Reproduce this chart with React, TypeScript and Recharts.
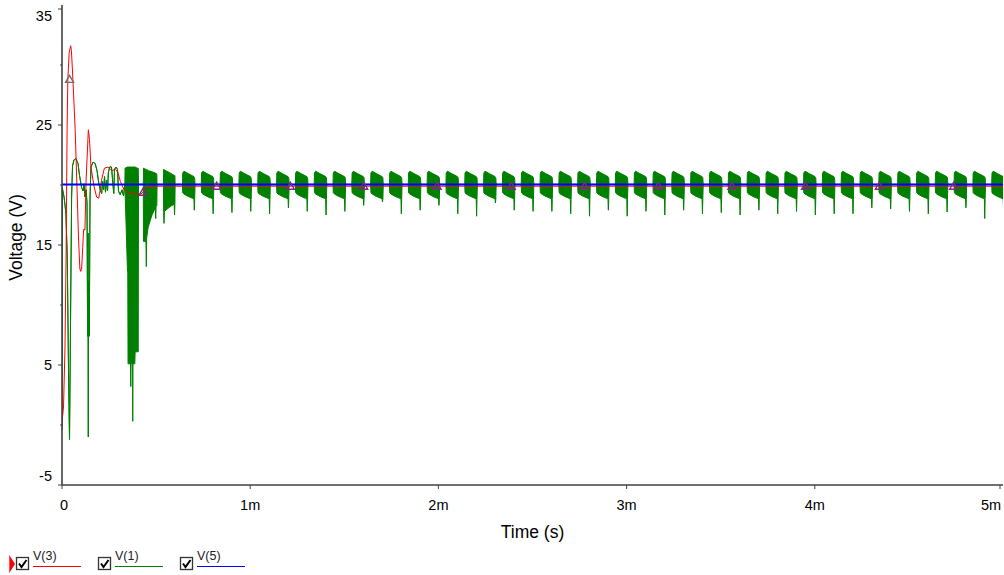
import React from 'react';
import { ComposedChart, Line, Area, Scatter, XAxis, YAxis, Label } from 'recharts';

// time in ms, voltage in V

// V(3) red node
const v3Time = [0, 0.008, 0.016, 0.022, 0.027, 0.031, 0.038, 0.046, 0.05, 0.058, 0.07, 0.08, 0.088, 0.095, 0.1, 0.105, 0.11, 0.115, 0.122, 0.128, 0.14, 0.146, 0.154, 0.17, 0.184, 0.195, 0.202, 0.21, 0.225, 0.245, 0.265, 0.285, 0.298, 0.31, 0.33, 0.35, 0.38, 0.405, 0.425, 0.445, 0.47, 0.5, 5];
const v3Volts = [0.2, 1.5, 6.5, 14.5, 24.6, 28.8, 31.0, 31.6, 31.2, 28.8, 24.6, 19.6, 15.5, 13.0, 12.8, 13.2, 14.8, 16.3, 16.25, 20.4, 24.6, 23.8, 21.5, 19.9, 19.0, 18.9, 19.5, 20.4, 21.4, 21.5, 21.2, 21.3, 21.0, 20.3, 19.6, 19.4, 19.3, 19.2, 19.3, 19.7, 19.9, 19.9, 19.9];

// V(5) blue node
const v5Time = [0, 5];
const v5Volts = [20.05, 20.05];

// V(1) green node, start-up part (low / high envelope)
const v1Time = [
  0, 0.001, 0.011, 0.021, 0.028, 0.035, 0.04, 0.045, 0.051, 0.056, 0.064, 0.074, 0.085, 0.093, 0.104, 0.112, 0.117, 0.122, 0.128, 0.133,
  0.136, 0.138, 0.14, 0.141, 0.145, 0.149, 0.154, 0.165, 0.176, 0.186, 0.197, 0.205, 0.211, 0.215, 0.221, 0.226, 0.231, 0.237, 0.242, 0.246,
  0.253, 0.263, 0.271, 0.275, 0.279, 0.287, 0.295, 0.3, 0.309, 0.319, 0.327, 0.334,
  0.3351, 0.348, 0.3495, 0.351, 0.364, 0.3655, 0.367, 0.375, 0.376, 0.377, 0.387, 0.3885, 0.4, 0.405, 0.4065,
  0.432, 0.433, 0.446, 0.448, 0.45, 0.458, 0.478, 0.496, 0.498, 0.5, 0.504, 0.505,
  0.539, 0.54, 0.542, 0.544, 0.575, 0.596, 0.598, 0.6, 0.601,
];
const v1Low = [
  -0.4, 19.8, 19.0, 17.6, 14.0, 4.0, -1.2, 8.0, 19.0, 21.6, 22.1, 22.2, 21.8, 20.8, 19.8, 19.5, 20.1, 19.0, 19.6, 18.5,
  7.4, 16.0, -1.0, 12.0, 7.4, 19.0, 21.5, 21.9, 21.8, 21.2, 20.0, 19.5, 19.3, 20.3, 19.6, 20.7, 19.4, 20.4, 19.5, 21.0,
  21.5, 21.5, 20.0, 19.3, 21.3, 21.5, 21.3, 19.5, 19.2, 19.6, 19.1, 20.0,
  19.5, 12.8, 12.8, 5.1, 5.1, 3.2, 5.1, 5.1, 0.3, 5.1, 5.1, 6.1, 6.1, 6.1, 20.05,
  20.05, 15.3, 15.3, 13.2, 15.6, 16.5, 17.5, 18.1, 17.2, 18.2, 18.3, 20.05,
  20.05, 17.8, 16.8, 17.8, 18.2, 18.4, 17.5, 18.4, 20.05,
];
const v1High = [
  -0.4, 19.8, 19.0, 17.6, 14.0, 4.0, -1.2, 8.0, 19.0, 21.6, 22.1, 22.2, 21.8, 20.8, 19.8, 19.5, 20.1, 19.0, 19.6, 18.5,
  7.4, 16.0, -1.0, 12.0, 7.4, 19.0, 21.5, 21.9, 21.8, 21.2, 20.0, 19.5, 19.3, 20.3, 19.6, 20.7, 19.4, 20.4, 19.5, 21.0,
  21.5, 21.5, 20.0, 19.3, 21.3, 21.5, 21.3, 19.5, 19.2, 19.6, 19.1, 20.0,
  21.4, 21.5, 21.5, 21.5, 21.5, 21.5, 21.5, 21.5, 21.5, 21.5, 21.5, 21.5, 21.4, 21.4, 20.05,
  20.05, 21.4, 21.3, 21.3, 21.3, 21.2, 21.1, 21.0, 21.0, 20.95, 20.9, 20.05,
  20.05, 21.3, 21.3, 21.25, 21.0, 20.8, 20.8, 20.8, 20.05,
];

// V(1) steady switching bursts: start of each burst and depth of its closing spike
const burstStart = [
  0.64, 0.74, 0.84, 0.94, 1.04, 1.14, 1.24, 1.34, 1.44, 1.54, 1.64, 1.74, 1.84, 1.94, 2.04, 2.14, 2.24, 2.34, 2.44, 2.54, 2.64, 2.74,
  2.84, 2.94, 3.04, 3.14, 3.24, 3.34, 3.44, 3.54, 3.64, 3.74, 3.84, 3.94, 4.04, 4.14, 4.24, 4.34, 4.44, 4.54, 4.64, 4.74, 4.84, 4.94,
];
const burstSpike = [
  17.9, 17.6, 17.7, 17.8, 17.6, 18.1, 17.8, 17.5, 17.8, 18.3, 18.6, 17.6, 17.9, 18.3, 17.6, 17.4, 18.5, 17.9, 17.8, 17.8, 17.6, 17.4,
  17.9, 17.4, 17.8, 17.5, 17.9, 17.6, 17.7, 17.5, 17.9, 17.6, 17.8, 17.5, 17.6, 17.6, 18.1, 18.0, 17.8, 17.6, 17.75, 18.1, 17.2, 17.8,
];
// shape of one burst (offset from its start)
const burstOffset = [0, 0.0015, 0.008, 0.03, 0.061, 0.063, 0.065, 0.067];
const burstHigh = [20.05, 21.0, 21.15, 20.95, 20.7, 20.65, 20.6, 20.05];
const burstLow = [20.05, 19.35, 19.25, 19.05, 18.85, 0, 18.8, 20.05];
const SPIKE_AT = 5;

// triangle markers
const markerTime = [0.04, 0.431, 0.822, 1.213, 1.603, 1.993, 2.387, 2.777, 3.168, 3.56, 3.951, 4.343, 4.738];
const markerVolts = [28.8, 19.4, 19.9, 19.9, 19.9, 19.9, 19.9, 19.9, 19.9, 19.9, 19.9, 19.9, 19.9];

const xTicks = [0, 1, 2, 3, 4, 5];
const xTickLabels = ['0', '1m', '2m', '3m', '4m', '5m'];
const yTicks = [-5, 0, 5, 10, 15, 20, 25, 30, 35];
const yMajor = [-5, 5, 15, 25, 35];

const legendNames = ['V(3)', 'V(1)', 'V(5)'];
const legendColors = ['#ff0000', '#008000', '#0000ff'];

const FONT = '"Liberation Sans", Arial, sans-serif';
const AXIS = '#404040';
const PLOT_LEFT = 62;
const PLOT_BOTTOM = 485;

const v3Data = v3Time.map((t, i) => ({ t, v: v3Volts[i] }));
const v5Data = v5Time.map((t, i) => ({ t, v: v5Volts[i] }));
const v1Data = v1Time.map((t, i) => ({ t, v: [v1Low[i], v1High[i]] }));
burstStart.forEach((s, k) => {
  burstOffset.forEach((o, i) => {
    const low = i === SPIKE_AT ? burstSpike[k] : burstLow[i];
    v1Data.push({ t: +(s + o).toFixed(4), v: [low, burstHigh[i]] });
  });
});
const markerData = markerTime.map((t, i) => ({ t, v: markerVolts[i] }));

const YTick = (props: any) => {
  const { y, payload } = props;
  const major = yMajor.includes(payload.value);
  const ly = Math.min(Math.max(y, 15.5), 475.5);
  return (
    <g>
      <line x1={PLOT_LEFT - (major ? 4 : 2)} x2={PLOT_LEFT} y1={y} y2={y} stroke={AXIS} strokeWidth={1} />
      {major && (
        <text x={52} y={ly} textAnchor="end" dominantBaseline="central" fontSize={14.5} fontFamily={FONT} fill="#000">
          {payload.value}
        </text>
      )}
    </g>
  );
};

const XTick = (props: any) => {
  const { x, payload } = props;
  const lx = Math.min(Math.max(x, 64), 991);
  return (
    <g>
      <line x1={x} x2={x} y1={PLOT_BOTTOM} y2={PLOT_BOTTOM + 4} stroke={AXIS} strokeWidth={1} />
      <text x={lx} y={505} textAnchor="middle" dominantBaseline="central" fontSize={14.5} fontFamily={FONT} fill="#000">
        {xTickLabels[xTicks.indexOf(payload.value)]}
      </text>
    </g>
  );
};

const Triangle = (props: any) => {
  const { cx, cy, index } = props;
  if (cx == null || cy == null) return null;
  const c = index === 0 ? '#6e6e6e' : '#7a2a86';
  return (
    <polygon
      points={`${cx},${cy - 4} ${cx - 4},${cy + 3} ${cx + 4},${cy + 3}`}
      fill="none"
      stroke={c}
      strokeWidth={1.4}
    />
  );
};

const LegendRow = () => (
  <svg width={260} height={30} style={{ position: 'absolute', left: 0, top: 546 }}>
    <polygon points="9.3,9 9.3,27 15,18" fill="#ff0000" />
    {legendNames.map((name, i) => {
      const ox = i * 82;
      return (
        <g key={name}>
          <rect x={16.5 + ox} y={11.5} width={12} height={12} fill="#fff" stroke="#333" strokeWidth={1.3} />
          <polyline points={`${19 + ox},17.5 ${21.5 + ox},21 ${26.5 + ox},14`} fill="none" stroke="#000" strokeWidth={2} />
          <text x={33 + ox} y={13.5} fontSize={12.5} fontFamily={FONT} fill="#222">
            {name}
          </text>
          <line x1={33 + ox} x2={81 + ox} y1={20.5} y2={20.5} stroke={legendColors[i]} strokeWidth={1} />
        </g>
      );
    })}
  </svg>
);

export default function App() {
  return (
    <div style={{ position: 'absolute', left: 0, top: 0, width: 1004, height: 575, background: '#fff', fontFamily: FONT }}>
      <ComposedChart width={1004} height={575} margin={{ top: 5, right: 1, bottom: 0, left: 0 }}>
        <XAxis
          type="number"
          dataKey="t"
          domain={[0, 5]}
          allowDataOverflow
          ticks={xTicks}
          tick={<XTick />}
          tickLine={false}
          height={90}
          axisLine={{ stroke: AXIS, strokeWidth: 1.6 }}
        >
          <Label
            content={() => (
              <text x={532.5} y={537.5} textAnchor="middle" fontSize={17.5} fontFamily={FONT} fill="#000">
                Time (s)
              </text>
            )}
          />
        </XAxis>
        <YAxis
          type="number"
          dataKey="v"
          domain={[-5, 35]}
          allowDataOverflow
          ticks={yTicks}
          tick={<YTick />}
          tickLine={false}
          width={62}
          axisLine={{ stroke: AXIS, strokeWidth: 1.6 }}
        >
          <Label
            content={() => (
              <text x={0} y={0} transform="translate(21.5, 237.5) rotate(-90)" textAnchor="middle" fontSize={17.5} fontFamily={FONT} fill="#000">
                Voltage (V)
              </text>
            )}
          />
        </YAxis>
        <Line data={v3Data} dataKey="v" type="linear" stroke="#ff0000" strokeWidth={1} dot={false} activeDot={false} isAnimationActive={false} />
        <Area data={v1Data} dataKey="v" type="linear" stroke="#008000" strokeWidth={1} fill="#008000" fillOpacity={1} dot={false} activeDot={false} isAnimationActive={false} />
        <Line data={v5Data} dataKey="v" type="linear" stroke="#0000ff" strokeWidth={2} dot={false} activeDot={false} isAnimationActive={false} />
        <Scatter data={markerData} dataKey="v" shape={<Triangle />} isAnimationActive={false} />
      </ComposedChart>
      <LegendRow />
    </div>
  );
}
